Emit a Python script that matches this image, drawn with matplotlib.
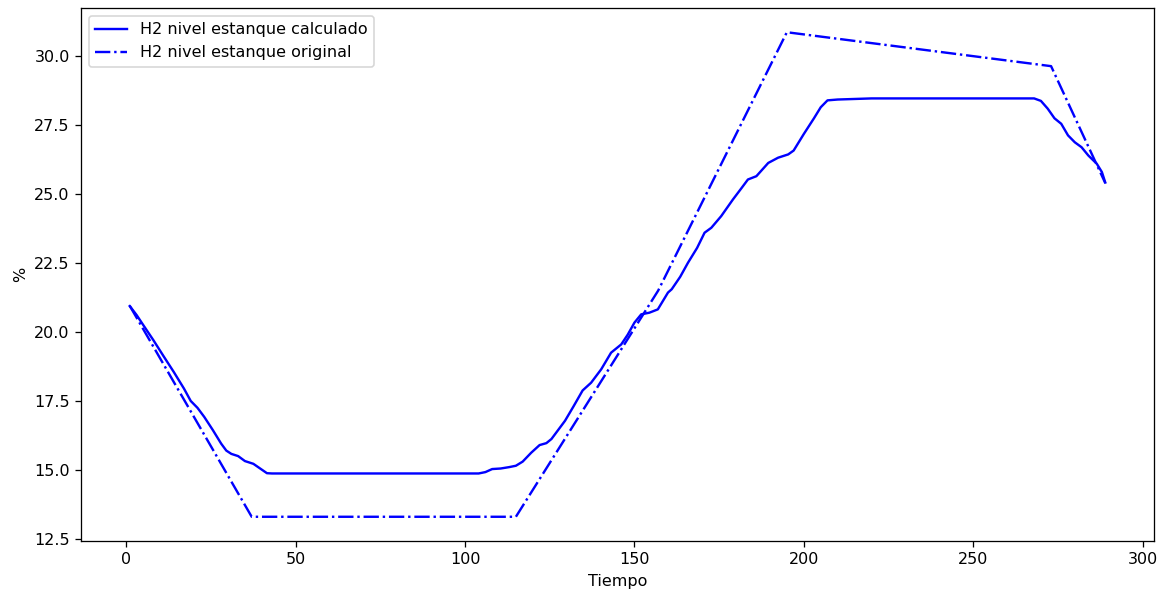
import matplotlib
matplotlib.use('Agg')
import matplotlib.pyplot as plt

# nivel calculado (tiempo, %)
t_calc = [1, 3, 5, 8, 11, 14, 17, 19, 21, 23, 25.5, 28, 29.5, 31, 33, 35, 37.5,
          39.5, 41.5, 43, 104, 106, 108, 110.5, 113, 115, 117, 119.5, 122, 124,
          125.5, 127.5, 129.5, 132, 134.7, 137.2, 140.2, 143.1, 146.1, 148,
          150, 152, 154.4, 156.9, 159.9, 161, 163.5, 165.8, 168.5, 170.7, 172.7,
          175.6, 179.1, 181.5, 183.5, 186, 189.5, 192.4, 195.4, 197, 200,
          203, 205, 207, 210, 220, 268, 270, 272, 274, 276, 278, 280, 282, 284,
          286.5, 288, 289]
h2_calc = [20.94, 20.62, 20.25, 19.70, 19.12, 18.55, 17.95, 17.50, 17.25, 16.92,
           16.45, 15.95, 15.70, 15.58, 15.50, 15.32, 15.22, 15.05, 14.88, 14.87,
           14.87, 14.92, 15.03, 15.05, 15.10, 15.15, 15.30, 15.62, 15.90, 15.97,
           16.12, 16.45, 16.78, 17.30, 17.88, 18.16, 18.65, 19.25, 19.55, 19.90,
           20.34, 20.64, 20.70, 20.82, 21.43, 21.55, 22.00, 22.51, 23.05, 23.60,
           23.78, 24.20, 24.81, 25.20, 25.53, 25.65, 26.13, 26.32, 26.44, 26.58,
           27.18, 27.75, 28.15, 28.40, 28.43, 28.47, 28.47, 28.38, 28.10, 27.75,
           27.55, 27.13, 26.88, 26.70, 26.40, 26.10, 25.80, 25.42]

# nivel original
t_orig = [1, 37, 115, 157, 195, 273, 289]
h2_orig = [20.95, 13.3, 13.3, 21.5, 30.87, 29.64, 25.4]

fig = plt.figure(figsize=(1165 / 115, 593 / 115), dpi=115)
ax = fig.add_subplot(111)
fig.subplots_adjust(left=0.0695, right=0.9906, top=0.9865, bottom=0.0877)

ax.plot(t_calc, h2_calc, color='blue', linestyle='-', label='H2 nivel estanque calculado')
ax.plot(t_orig, h2_orig, color='blue', linestyle='-.', label='H2 nivel estanque original')

ax.set_xlabel('Tiempo')
ax.set_ylabel('%')
ax.legend(loc='upper left')

plt.savefig('out.png', dpi=115)
